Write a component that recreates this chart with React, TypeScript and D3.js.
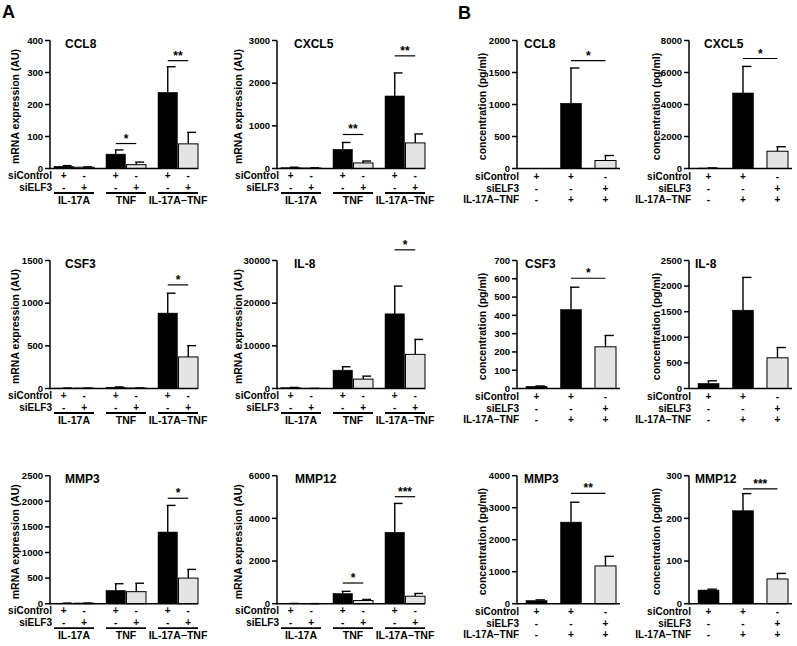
import React from "react";
import * as d3 from "d3";

// ---------- categories / tick labels ----------
const groupsA = ["IL-17A", "TNF", "IL-17A−TNF"];
const subA = ["siControl", "siELF3"];
const siControlA = ["+", "-", "+", "-", "+", "-"];
const siELF3A = ["-", "+", "-", "+", "-", "+"];
const condB = ["ctrl", "stim", "stimELF3"];
const siControlB = ["+", "+", "-"];
const siELF3B = ["-", "-", "+"];
const stimB = ["-", "+", "+"];
const rowLabelsA = ["siControl", "siELF3"];
const rowLabelsB = ["siControl", "siELF3", "IL-17A−TNF"];

// ---------- A: mRNA expression (AU) ----------
const ccl8A = [7, 4, 45, 12, 238, 77];
const ccl8AErr = [9, 5, 58, 20, 318, 113];
const ccl8ATicks = [0, 100, 200, 300, 400];

const cxcl5A = [20, 10, 450, 130, 1700, 600];
const cxcl5AErr = [30, 15, 610, 175, 2240, 810];
const cxcl5ATicks = [0, 1000, 2000, 3000];

const csf3A = [5, 4, 15, 5, 884, 370];
const csf3AErr = [6, 5, 18, 6, 1117, 502];
const csf3ATicks = [0, 500, 1000, 1500];

const il8A = [200, 20, 4300, 2200, 17500, 8000];
const il8AErr = [250, 30, 5100, 2900, 24000, 11500];
const il8ATicks = [0, 10000, 20000, 30000];

const mmp3A = [10, 10, 260, 235, 1400, 500];
const mmp3AErr = [12, 12, 390, 400, 1920, 670];
const mmp3ATicks = [0, 500, 1000, 1500, 2000, 2500];

const mmp12A = [10, 5, 480, 150, 3350, 350];
const mmp12AErr = [12, 6, 580, 200, 4700, 480];
const mmp12ATicks = [0, 2000, 4000, 6000];

// ---------- B: concentration (pg/ml) ----------
const ccl8B = [0, 1020, 125];
const ccl8BErr = [0, 1570, 203];
const ccl8BTicks = [0, 500, 1000, 1500, 2000];

const cxcl5B = [30, 4720, 1080];
const cxcl5BErr = [35, 6380, 1360];
const cxcl5BTicks = [0, 2000, 4000, 6000, 8000];

const csf3B = [12, 432, 228];
const csf3BErr = [14, 554, 290];
const csf3BTicks = [0, 100, 200, 300, 400, 500, 600, 700];

const il8B = [100, 1530, 600];
const il8BErr = [150, 2170, 800];
const il8BTicks = [0, 500, 1000, 1500, 2000, 2500];

const mmp3B = [100, 2550, 1180];
const mmp3BErr = [120, 3170, 1480];
const mmp3BTicks = [0, 1000, 2000, 3000, 4000];

const mmp12B = [32, 218, 58];
const mmp12BErr = [34, 258, 71];
const mmp12BTicks = [0, 100, 200, 300];

// significance: [barA, barB, value, label]
const ccl8ASig: [number, number, number, string][] = [[2, 3, 78, "*"], [4, 5, 337, "**"]];
const cxcl5ASig: [number, number, number, string][] = [[2, 3, 797, "**"], [4, 5, 2640, "**"]];
const csf3ASig: [number, number, number, string][] = [[4, 5, 1214, "*"]];
const il8ASig: [number, number, number, string][] = [[4, 5, 32500, "*"]];
const mmp3ASig: [number, number, number, string][] = [[4, 5, 2060, "*"]];
const mmp12ASig: [number, number, number, string][] = [[2, 3, 970, "*"], [4, 5, 5015, "***"]];
const ccl8BSig: [number, number, number, string][] = [[1, 2, 1684, "*"]];
const cxcl5BSig: [number, number, number, string][] = [[1, 2, 6875, "*"]];
const csf3BSig: [number, number, number, string][] = [[1, 2, 603, "*"]];
const il8BSig: [number, number, number, string][] = [];
const mmp3BSig: [number, number, number, string][] = [[1, 2, 3450, "**"]];
const mmp12BSig: [number, number, number, string][] = [[1, 2, 269, "***"]];

// ---------- layout ----------
const FONT = "'Liberation Sans', Arial, Helvetica, sans-serif";
const colX = [50, 277, 517, 689];
const rowTop = [40.5, 260.5, 475.7];
const PH = 128;
const yTitleOffset = [35, 39, 35, 33];

type PanelDef = {
  kind: "A" | "B";
  col: number;
  row: number;
  title: string;
  titleDx: number;
  means: number[];
  errs: number[];
  ticks: number[];
  sig: [number, number, number, string][];
};

const panels: PanelDef[] = [
  { kind: "A", col: 0, row: 0, title: "CCL8", titleDx: 15, means: ccl8A, errs: ccl8AErr, ticks: ccl8ATicks, sig: ccl8ASig },
  { kind: "A", col: 1, row: 0, title: "CXCL5", titleDx: 17, means: cxcl5A, errs: cxcl5AErr, ticks: cxcl5ATicks, sig: cxcl5ASig },
  { kind: "A", col: 0, row: 1, title: "CSF3", titleDx: 15, means: csf3A, errs: csf3AErr, ticks: csf3ATicks, sig: csf3ASig },
  { kind: "A", col: 1, row: 1, title: "IL-8", titleDx: 17, means: il8A, errs: il8AErr, ticks: il8ATicks, sig: il8ASig },
  { kind: "A", col: 0, row: 2, title: "MMP3", titleDx: 15, means: mmp3A, errs: mmp3AErr, ticks: mmp3ATicks, sig: mmp3ASig },
  { kind: "A", col: 1, row: 2, title: "MMP12", titleDx: 18, means: mmp12A, errs: mmp12AErr, ticks: mmp12ATicks, sig: mmp12ASig },
  { kind: "B", col: 2, row: 0, title: "CCL8", titleDx: 7, means: ccl8B, errs: ccl8BErr, ticks: ccl8BTicks, sig: ccl8BSig },
  { kind: "B", col: 3, row: 0, title: "CXCL5", titleDx: 15, means: cxcl5B, errs: cxcl5BErr, ticks: cxcl5BTicks, sig: cxcl5BSig },
  { kind: "B", col: 2, row: 1, title: "CSF3", titleDx: 8, means: csf3B, errs: csf3BErr, ticks: csf3BTicks, sig: csf3BSig },
  { kind: "B", col: 3, row: 1, title: "IL-8", titleDx: 6, means: il8B, errs: il8BErr, ticks: il8BTicks, sig: il8BSig },
  { kind: "B", col: 2, row: 2, title: "MMP3", titleDx: 7, means: mmp3B, errs: mmp3BErr, ticks: mmp3BTicks, sig: mmp3BSig },
  { kind: "B", col: 3, row: 2, title: "MMP12", titleDx: 6, means: mmp12B, errs: mmp12BErr, ticks: mmp12BTicks, sig: mmp12BSig },
];

function Panel({ p }: { p: PanelDef }) {
  const x0 = colX[p.col];
  const top = rowTop[p.row];
  const bottom = top + PH;
  const y = d3.scaleLinear().domain([0, p.ticks[p.ticks.length - 1]]).range([bottom, top]);

  let centers: number[] = [];
  let bw = 0;
  let axisEnd = 0;
  if (p.kind === "A") {
    const gx = d3.scalePoint<string>().domain(groupsA).range([x0 + 24, x0 + 128]);
    const sx = d3.scaleBand<string>().domain(subA).range([-20, 20]).paddingInner(0.05);
    bw = sx.bandwidth();
    centers = p.means.map((_, i) => (gx(groupsA[Math.floor(i / 2)]) as number) + (sx(subA[i % 2]) as number) + bw / 2);
    axisEnd = x0 + 148;
  } else {
    const bx = d3.scaleBand<string>().domain(condB).range([x0 + 9, x0 + 99]).paddingInner(0.39);
    bw = bx.bandwidth();
    centers = condB.map((c) => (bx(c) as number) + bw / 2);
    axisEnd = x0 + 103;
  }

  const isGrey = (i: number) => (p.kind === "A" ? i % 2 === 1 : i === 2);
  const lines = p.kind === "A" ? [siControlA, siELF3A] : [siControlB, siELF3B, stimB];
  const labels = p.kind === "A" ? rowLabelsA : rowLabelsB;
  const rowDy = p.kind === "A" ? [10.5, 22.5] : [11.5, 23, 34.5];

  return (
    <g>
      <text x={x0 + p.titleDx} y={top + 7} fontSize={12} fontWeight="bold">{p.title}</text>
      <text
        transform={`translate(${x0 - yTitleOffset[p.col]},${(top + bottom) / 2 + 2}) rotate(-90)`}
        textAnchor="middle"
        dy="0.35em"
        fontSize={10.5}
        fontWeight="bold"
      >
        {p.kind === "A" ? "mRNA expression (AU)" : "concentration (pg/ml)"}
      </text>
      {p.means.map((m, i) => (
        <rect
          key={"b" + i}
          x={centers[i] - bw / 2}
          y={y(m)}
          width={bw}
          height={Math.max(0, bottom - y(m))}
          fill={isGrey(i) ? "#e4e4e4" : "#000"}
          stroke="#000"
          strokeWidth={isGrey(i) ? 1 : 0.5}
        />
      ))}
      {p.means.map((m, i) =>
        p.errs[i] > m + 0.5 ? (
          <g key={"e" + i} stroke="#000" strokeWidth={1.4}>
            <line x1={centers[i]} x2={centers[i]} y1={y(m)} y2={y(p.errs[i])} />
            <line x1={centers[i] - 1} x2={centers[i] + bw * 0.4} y1={y(p.errs[i])} y2={y(p.errs[i])} />
          </g>
        ) : null
      )}
      <line x1={x0} x2={x0} y1={bottom + 0.75} y2={top} stroke="#000" strokeWidth={1.5} />
      {p.ticks.map((t) => (
        <g key={"t" + t}>
          <line x1={x0 - 5} x2={x0} y1={y(t)} y2={y(t)} stroke="#000" strokeWidth={1.5} />
          <text x={x0 - 7} y={y(t)} dy="0.35em" textAnchor="end" fontSize={9.5} fontWeight="bold">{t}</text>
        </g>
      ))}
      <line x1={x0} x2={axisEnd} y1={bottom} y2={bottom} stroke="#000" strokeWidth={1.5} />
      {labels.map((lab, r) => (
        <g key={"r" + r}>
          <text x={x0 + 2} y={bottom + rowDy[r]} textAnchor="end" fontSize={10} fontWeight="bold">{lab}</text>
          {lines[r].map((s, i) => (
            <text key={i} x={centers[i]} y={bottom + rowDy[r]} textAnchor="middle" fontSize={10} fontWeight="bold">{s}</text>
          ))}
        </g>
      ))}
      {p.kind === "A" &&
        groupsA.map((g, gi) => {
          const c = (centers[gi * 2] + centers[gi * 2 + 1]) / 2;
          return (
            <g key={"g" + gi}>
              <line x1={c - 20} x2={c + 20} y1={bottom + 24.5} y2={bottom + 24.5} stroke="#000" strokeWidth={1.8} />
              <text x={c} y={bottom + 35.5} textAnchor="middle" fontSize={10.5} fontWeight="bold">{g}</text>
            </g>
          );
        })}
      {p.sig.map(([a, b, v, lab], k) => (
        <g key={"s" + k}>
          <line x1={centers[a]} x2={centers[b]} y1={y(v)} y2={y(v)} stroke="#000" strokeWidth={1.2} />
          <text x={(centers[a] + centers[b]) / 2} y={y(v) - 1} textAnchor="middle" fontSize={12} fontWeight="bold">{lab}</text>
        </g>
      ))}
    </g>
  );
}

export default function App() {
  return (
    <svg
      width={797}
      height={646}
      style={{ position: "absolute", left: 0, top: 0, background: "#fff" }}
      fontFamily={FONT}
    >
      <rect width={797} height={646} fill="#fff" />
      <text x={2} y={18} fontSize={18} fontWeight="bold">A</text>
      <text x={458} y={19} fontSize={18} fontWeight="bold">B</text>
      {panels.map((p, i) => (
        <Panel key={i} p={p} />
      ))}
    </svg>
  );
}
